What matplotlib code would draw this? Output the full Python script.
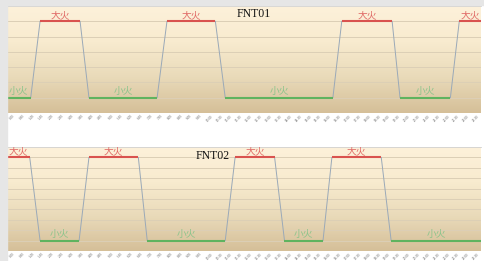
import matplotlib
matplotlib.use("Agg")
import matplotlib.pyplot as plt
import numpy as np
from matplotlib.colors import LinearSegmentedColormap
from matplotlib.patches import Rectangle

# time axis: one label per half-hour slot
tick_labels = ["%d:%02d" % (h, m) for h in range(24) for m in (0, 30)]

# FNT01: (start, end, level) of each flat segment
fnt01_start = [0.0, 3.35, 8.3, 16.2, 22.1, 33.9, 39.8, 45.8]
fnt01_end = [2.4, 7.4, 15.2, 21.1, 33.0, 39.0, 44.9, 48.0]
fnt01_fire = ["小火", "大火", "小火", "大火", "小火", "大火", "小火", "大火"]

# FNT02
fnt02_start = [0.0, 3.35, 8.3, 14.2, 23.1, 28.1, 32.9, 38.9]
fnt02_end = [2.3, 7.3, 13.3, 22.1, 27.1, 32.0, 37.9, 48.0]
fnt02_fire = ["大火", "小火", "大火", "小火", "大火", "小火", "大火", "小火"]

levels1 = {"大火": 6, "小火": 1}
levels2 = {"大火": 9, "小火": 1}

bg = LinearSegmentedColormap.from_list("bg", ["#d5bf98", "#e9dab9", "#f8ebcf", "#fdf1da"])

fig = plt.figure(figsize=(4.84, 2.61), dpi=100)
fig.patch.set_facecolor("white")
fig.patches.append(Rectangle((0, 0), 7 / 484, 1, transform=fig.transFigure,
                             color="#e6e6e6", zorder=0))
fig.patches.append(Rectangle((0, 1 - 5 / 261), 1, 5 / 261, transform=fig.transFigure,
                             color="#e6e6e6", zorder=0))


def draw(ax, starts, ends, fire, levels, ymax, title, title_x, title_y):
    grad = np.linspace(0, 1, 256).reshape(-1, 1)
    ax.imshow(grad, aspect="auto", cmap=bg, origin="lower",
              extent=[0, 48, 0, ymax], zorder=0)
    for y in range(1, ymax):
        ax.axhline(y, color="#dccfb6", lw=0.7, zorder=1)
    # whole series as thin grey step line
    xs, ys = [], []
    for s, e, f in zip(starts, ends, fire):
        xs += [s, e]
        ys += [levels[f], levels[f]]
    ax.plot(xs, ys, color="#9aa9b8", lw=0.7, zorder=2)
    for s, e, f in zip(starts, ends, fire):
        y = levels[f]
        col = "#d9534f" if f == "大火" else "#5fb35f"
        tcol = "#e06a66" if f == "大火" else "#8cc48c"
        ax.plot([s, e], [y, y], color=col, lw=1.5, zorder=3, solid_capstyle="butt")
        ax.text((s + e) / 2, y + 0.1 * ymax / 7, f,
                ha="center", va="bottom", fontsize=7, color=tcol,
                family=["Noto Sans CJK SC", "DejaVu Sans"], zorder=4)
    ax.text(title_x, title_y, title, ha="center", va="center",
            fontsize=8.5, family="Liberation Serif", color="#111111", zorder=4)
    ax.set_xlim(0, 48)
    ax.set_ylim(0, ymax)
    ax.set_yticks([])
    ax.set_xticks(np.arange(48) + 0.5)
    ax.set_xticklabels(tick_labels, rotation=45, fontsize=2.0, color="#666666",
                       ha="center", va="top")
    ax.tick_params(axis="x", length=0, pad=0.8)
    for sp in ["left", "right", "bottom"]:
        ax.spines[sp].set_visible(False)
    ax.spines["top"].set_color("#d0d0d0")
    ax.spines["top"].set_linewidth(0.6)


ax1 = fig.add_axes([7 / 484, 1 - 113 / 261, 474 / 484, 107 / 261])
draw(ax1, fnt01_start, fnt01_end, fnt01_fire, levels1, 7, "FNT01", 25.0, 6.5)

ax2 = fig.add_axes([7 / 484, 1 - 251 / 261, 474 / 484, 104 / 261])
draw(ax2, fnt02_start, fnt02_end, fnt02_fire, levels2, 10, "FNT02", 20.8, 9.1)

fig.savefig("out.png", dpi=100)
